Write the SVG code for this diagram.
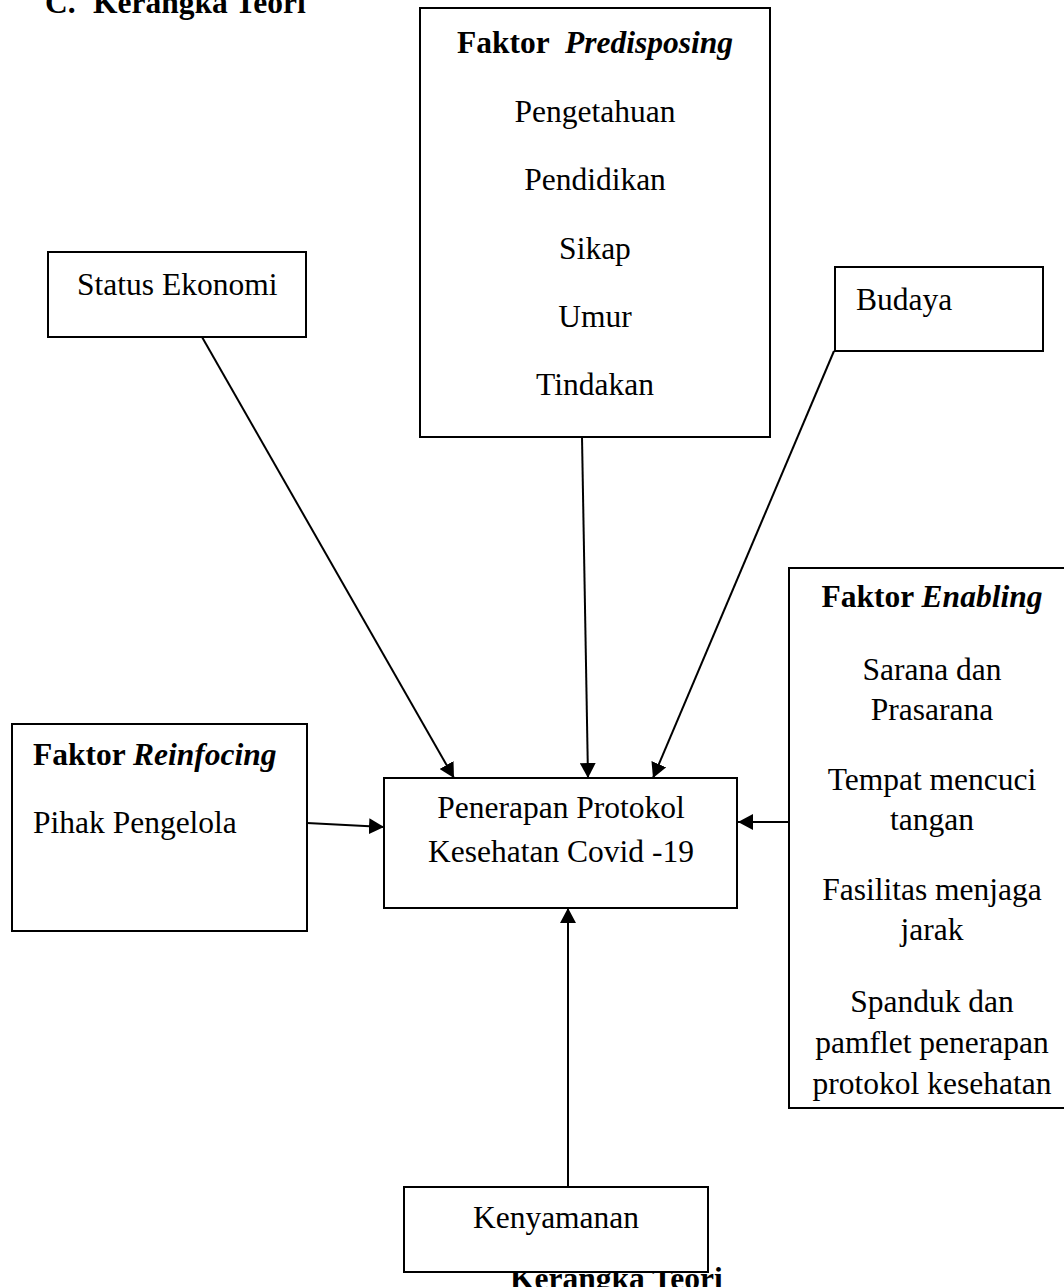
<svg xmlns="http://www.w3.org/2000/svg" width="1064" height="1287" viewBox="0 0 1064 1287">
<style>
text{font-family:"Liberation Serif","Times New Roman",serif;font-size:31.5px;fill:#000}
.b{font-weight:bold}
.i{font-style:italic}
.c{text-anchor:middle}
rect{fill:#fff;stroke:#000;stroke-width:2}
.ln{stroke:#000;stroke-width:2;fill:none}
</style>
<defs>
<marker id="ah" viewBox="0 0 15 16" refX="15" refY="8" markerWidth="15" markerHeight="16" markerUnits="userSpaceOnUse" orient="auto">
<path d="M0,0 L15,8 L0,16 Z" fill="#000"/>
</marker>
</defs>
<text class="b" x="45" y="13">C.<tspan x="93">Kerangka Teori</tspan></text>
<text class="b" x="510" y="1289">Kerangka Teori</text>
<g id="connectors">
<line class="ln" x1="202" y1="337" x2="454" y2="778" marker-end="url(#ah)"/>
<line class="ln" x1="582" y1="437" x2="588" y2="778" marker-end="url(#ah)"/>
<line class="ln" x1="834" y1="351" x2="653" y2="778" marker-end="url(#ah)"/>
<line class="ln" x1="307" y1="823" x2="384" y2="827" marker-end="url(#ah)"/>
<line class="ln" x1="802" y1="822" x2="738" y2="822" marker-end="url(#ah)"/>
<line class="ln" x1="568" y1="1187" x2="568" y2="908" marker-end="url(#ah)"/>
</g>
<g id="predisposing">
<rect x="420" y="8" width="350" height="429"/>
<text class="c" x="595" y="53"><tspan class="b">Faktor </tspan><tspan class="b i" dx="8">Predisposing</tspan></text>
<text class="c" x="595" y="122">Pengetahuan</text>
<text class="c" x="595" y="190">Pendidikan</text>
<text class="c" x="595" y="259">Sikap</text>
<text class="c" x="595" y="327">Umur</text>
<text class="c" x="595" y="395">Tindakan</text>
</g>
<g id="status-ekonomi">
<rect x="48" y="252" width="258" height="85"/>
<text x="77" y="295">Status Ekonomi</text>
</g>
<g id="budaya">
<rect x="835" y="267" width="208" height="84"/>
<text x="856" y="310">Budaya</text>
</g>
<g id="reinforcing">
<rect x="12" y="724" width="295" height="207"/>
<text x="33" y="765"><tspan class="b">Faktor </tspan><tspan class="b i">Reinfocing</tspan></text>
<text x="33" y="833">Pihak Pengelola</text>
</g>
<g id="penerapan">
<rect x="384" y="778" width="353" height="130"/>
<text class="c" x="561" y="818">Penerapan Protokol</text>
<text class="c" x="561" y="862">Kesehatan Covid -19</text>
</g>
<g id="enabling">
<rect x="789" y="568" width="290" height="540"/>
<text class="c" x="932" y="607"><tspan class="b">Faktor </tspan><tspan class="b i">Enabling</tspan></text>
<text class="c" x="932" y="680">Sarana dan</text>
<text class="c" x="932" y="720">Prasarana</text>
<text class="c" x="932" y="790">Tempat mencuci</text>
<text class="c" x="932" y="830">tangan</text>
<text class="c" x="932" y="900">Fasilitas menjaga</text>
<text class="c" x="932" y="940">jarak</text>
<text class="c" x="932" y="1012">Spanduk dan</text>
<text class="c" x="932" y="1053">pamflet penerapan</text>
<text class="c" x="932" y="1094">protokol kesehatan</text>
</g>
<g id="kenyamanan">
<rect x="404" y="1187" width="304" height="85"/>
<text class="c" x="556" y="1228">Kenyamanan</text>
</g>
</svg>
